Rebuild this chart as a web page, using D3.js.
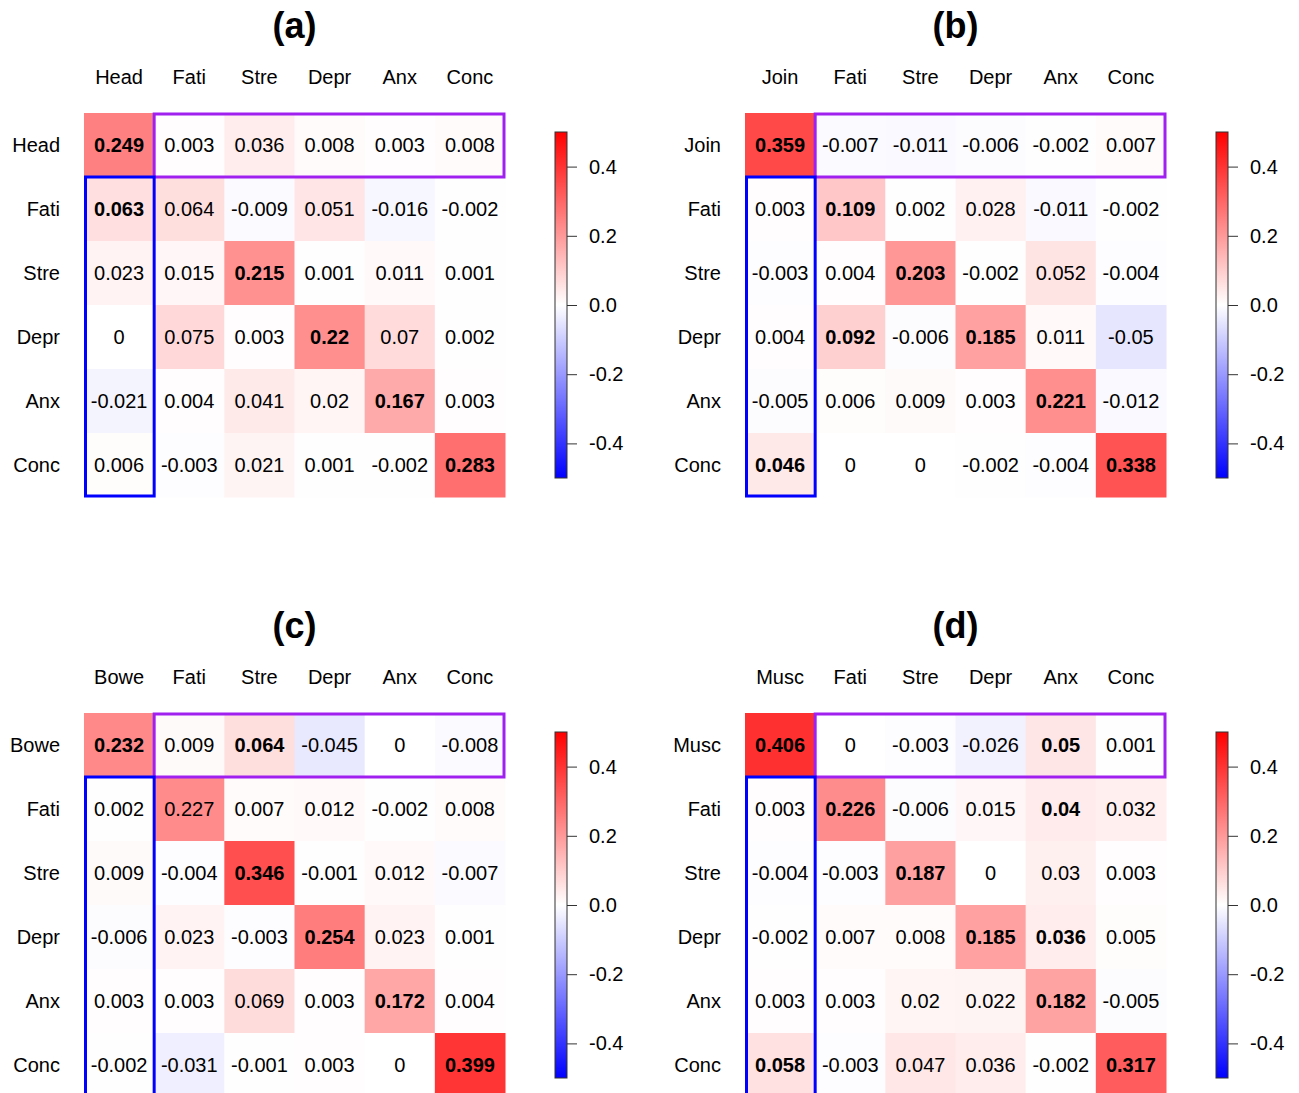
<!DOCTYPE html>
<html>
<head>
<meta charset="utf-8">
<script src="https://cdn.jsdelivr.net/npm/d3@7"></script>
<style>
  body { margin: 0; background: #fff; }
  text { font-family: "Liberation Sans", Arial, sans-serif; }
</style>
</head>
<body>
<div id="chart"></div>
<script>
// shared variable names (first one differs per panel)
const commonVars = ["Fati", "Stre", "Depr", "Anx", "Conc"];
const panelTitles = ["(a)", "(b)", "(c)", "(d)"];
const firstVars = ["Head", "Join", "Bowe", "Musc"];

const valuesA = [
  [0.249, 0.003, 0.036, 0.008, 0.003, 0.008],
  [0.063, 0.064, -0.009, 0.051, -0.016, -0.002],
  [0.023, 0.015, 0.215, 0.001, 0.011, 0.001],
  [0, 0.075, 0.003, 0.22, 0.07, 0.002],
  [-0.021, 0.004, 0.041, 0.02, 0.167, 0.003],
  [0.006, -0.003, 0.021, 0.001, -0.002, 0.283]
];
const valuesB = [
  [0.359, -0.007, -0.011, -0.006, -0.002, 0.007],
  [0.003, 0.109, 0.002, 0.028, -0.011, -0.002],
  [-0.003, 0.004, 0.203, -0.002, 0.052, -0.004],
  [0.004, 0.092, -0.006, 0.185, 0.011, -0.05],
  [-0.005, 0.006, 0.009, 0.003, 0.221, -0.012],
  [0.046, 0, 0, -0.002, -0.004, 0.338]
];
const valuesC = [
  [0.232, 0.009, 0.064, -0.045, 0, -0.008],
  [0.002, 0.227, 0.007, 0.012, -0.002, 0.008],
  [0.009, -0.004, 0.346, -0.001, 0.012, -0.007],
  [-0.006, 0.023, -0.003, 0.254, 0.023, 0.001],
  [0.003, 0.003, 0.069, 0.003, 0.172, 0.004],
  [-0.002, -0.031, -0.001, 0.003, 0, 0.399]
];
const valuesD = [
  [0.406, 0, -0.003, -0.026, 0.05, 0.001],
  [0.003, 0.226, -0.006, 0.015, 0.04, 0.032],
  [-0.004, -0.003, 0.187, 0, 0.03, 0.003],
  [-0.002, 0.007, 0.008, 0.185, 0.036, 0.005],
  [0.003, 0.003, 0.02, 0.022, 0.182, -0.005],
  [0.058, -0.003, 0.047, 0.036, -0.002, 0.317]
];

// [row, col] of values printed in bold
const boldA = [[0,0],[1,0],[2,2],[3,3],[4,4],[5,5]];
const boldB = [[0,0],[1,1],[2,2],[3,1],[3,3],[4,4],[5,0],[5,5]];
const boldC = [[0,0],[0,2],[2,2],[3,3],[4,4],[5,5]];
const boldD = [[0,0],[0,4],[1,1],[1,4],[2,2],[3,3],[3,4],[4,4],[5,0],[5,5]];

const colorTicks = [-0.4, -0.2, 0, 0.2, 0.4];

const panels = [
  { title: panelTitles[0], first: firstVars[0], values: valuesA, bold: boldA, ox: 84, oy: 113 },
  { title: panelTitles[1], first: firstVars[1], values: valuesB, bold: boldB, ox: 745, oy: 113 },
  { title: panelTitles[2], first: firstVars[2], values: valuesC, bold: boldC, ox: 84, oy: 713 },
  { title: panelTitles[3], first: firstVars[3], values: valuesD, bold: boldD, ox: 745, oy: 713 }
];

const W = 1299, H = 1093;
const gridW = 421, gridH = 384;
const fs = 20;

const color = d3.scaleLinear()
  .domain([-0.5, 0, 0.5])
  .range(["#0000FF", "#FFFFFF", "#FF0000"]);

const svg = d3.select("#chart").append("svg")
  .attr("width", W)
  .attr("height", H);

const defs = svg.append("defs");
const grad = defs.append("linearGradient")
  .attr("id", "cbar")
  .attr("x1", 0).attr("y1", 1).attr("x2", 0).attr("y2", 0);
d3.range(0, 1.0001, 0.1).forEach(t => {
  grad.append("stop")
    .attr("offset", t)
    .attr("stop-color", color(-0.5 + t));
});

panels.forEach(p => {
  const vars = [p.first].concat(commonVars);
  const g = svg.append("g").attr("transform", `translate(${p.ox},${p.oy})`);

  const x = d3.scaleBand().domain(vars).range([0, gridW]);
  const y = d3.scaleBand().domain(vars).range([0, gridH]);

  const cells = [];
  p.values.forEach((row, i) => row.forEach((v, j) => {
    const isBold = p.bold.some(b => b[0] === i && b[1] === j);
    cells.push({ r: vars[i], c: vars[j], v, bold: isBold });
  }));

  g.selectAll("rect.cell")
    .data(cells)
    .enter().append("rect")
    .attr("class", "cell")
    .attr("x", d => x(d.c))
    .attr("y", d => y(d.r))
    .attr("width", x.bandwidth() + 0.5)
    .attr("height", y.bandwidth() + 0.5)
    .attr("fill", d => color(d.v));

  g.selectAll("text.val")
    .data(cells)
    .enter().append("text")
    .attr("class", "val")
    .attr("x", d => x(d.c) + x.bandwidth() / 2)
    .attr("y", d => y(d.r) + y.bandwidth() / 2)
    .attr("dy", "0.36em")
    .attr("text-anchor", "middle")
    .attr("font-size", fs)
    .attr("font-weight", d => d.bold ? "bold" : "normal")
    .attr("fill", "#000")
    .text(d => String(d.v));

  // highlighted boxes
  g.append("rect")
    .attr("x", x(vars[1]))
    .attr("y", y(vars[0]) + 1)
    .attr("width", gridW - x(vars[1]) - 1)
    .attr("height", y.bandwidth() - 1)
    .attr("fill", "none")
    .attr("stroke", "#A020F0")
    .attr("stroke-width", 3);

  g.append("rect")
    .attr("x", 1.5)
    .attr("y", y(vars[1]))
    .attr("width", x.bandwidth() - 1.5)
    .attr("height", gridH - y(vars[1]) - 1)
    .attr("fill", "none")
    .attr("stroke", "#0000FF")
    .attr("stroke-width", 3);

  // column labels
  g.selectAll("text.col")
    .data(vars)
    .enter().append("text")
    .attr("class", "col")
    .attr("x", d => x(d) + x.bandwidth() / 2)
    .attr("y", -36)
    .attr("dy", "0.36em")
    .attr("text-anchor", "middle")
    .attr("font-size", fs)
    .text(d => d);

  // row labels
  g.selectAll("text.row")
    .data(vars)
    .enter().append("text")
    .attr("class", "row")
    .attr("x", -24)
    .attr("y", d => y(d) + y.bandwidth() / 2)
    .attr("dy", "0.36em")
    .attr("text-anchor", "end")
    .attr("font-size", fs)
    .text(d => d);

  // title
  g.append("text")
    .attr("x", gridW / 2)
    .attr("y", -88)
    .attr("dy", "0.36em")
    .attr("text-anchor", "middle")
    .attr("font-size", 36)
    .attr("font-weight", "bold")
    .text(p.title);

  // colour bar
  const cb = g.append("g").attr("transform", `translate(${gridW + 50},0)`);
  const cy = d3.scaleLinear().domain([-0.5, 0.5]).range([365, 19]);
  cb.append("rect")
    .attr("x", 0)
    .attr("y", cy(0.5))
    .attr("width", 12)
    .attr("height", cy(-0.5) - cy(0.5))
    .attr("fill", "url(#cbar)")
    .attr("stroke", "#333")
    .attr("stroke-width", 1);

  const axis = cb.append("g")
    .attr("transform", "translate(12,0)")
    .call(d3.axisRight(cy).tickValues(colorTicks).tickSize(10).tickPadding(12)
      .tickFormat(d => d.toFixed(1)));
  axis.select(".domain").remove();
  axis.selectAll(".tick line").attr("stroke", "#333");
  axis.selectAll(".tick text")
    .attr("font-size", fs)
    .attr("fill", "#000")
    .style("font-family", "\"Liberation Sans\", Arial, sans-serif");
});
</script>
</body>
</html>
